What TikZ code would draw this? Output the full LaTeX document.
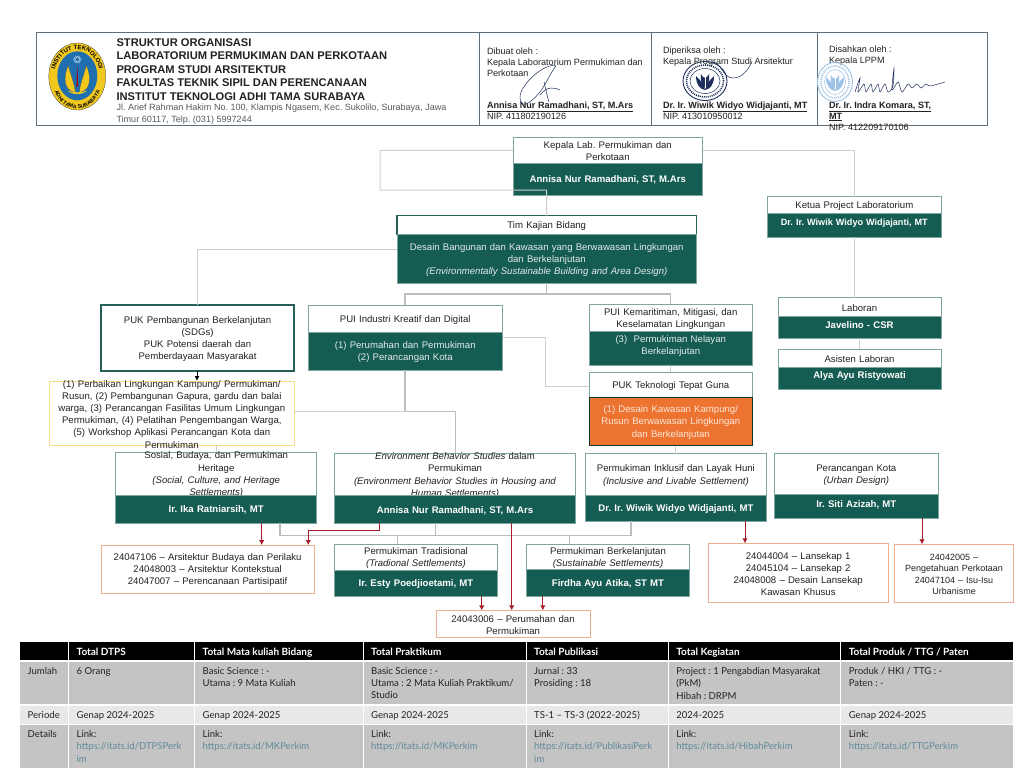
\documentclass[tikz,border=0pt]{standalone}
\usepackage{fontspec}
\setmainfont{Liberation Sans}
\newfontfamily\tblfont{Lato}[Ligatures=TeX]
\usetikzlibrary{arrows.meta,decorations.text}
\frenchspacing
\definecolor{labgreen}{HTML}{155C52}
\definecolor{edgeteal}{HTML}{7FA5A0}
\definecolor{connline}{HTML}{CFCFCF}
\definecolor{connthick}{HTML}{BDBDBD}
\definecolor{redarrow}{HTML}{A81C2C}
\definecolor{peach}{HTML}{EFAE92}
\definecolor{yellowedge}{HTML}{F5DE82}
\definecolor{orangefill}{HTML}{EC7430}
\definecolor{framegray}{HTML}{5E6E7A}
\definecolor{rowdark}{HTML}{C4C4C4}
\definecolor{rowlight}{HTML}{E8E8E8}
\definecolor{linkblue}{HTML}{5F8A99}
\definecolor{inktxt}{HTML}{222222}
\definecolor{navyink}{HTML}{1E2F5E}
\definecolor{stampblue}{HTML}{9CC2E5}
\definecolor{logoblue}{HTML}{1F6FB0}
\definecolor{logoyellow}{HTML}{F2C81E}
\tikzset{
  x=1pt,y=-1pt,
  boxbase/.style={inner sep=0pt,outer sep=0pt,anchor=north west},
  whitebox/.style={boxbase,draw=edgeteal,line width=.9pt,fill=white},
  strongbox/.style={boxbase,draw=labgreen!85!gray,line width=1.1pt,fill=white},
  greenbox/.style={boxbase,draw=edgeteal,line width=.6pt,fill=labgreen},
  orangebox/.style={boxbase,draw=labgreen!60!black,line width=.8pt,fill=orangefill},
  yellowbox/.style={boxbase,draw=yellowedge,line width=1pt,fill=white},
  codebox/.style={boxbase,draw=peach,line width=1pt,fill=white},
  hdrbox/.style={boxbase,draw=framegray,line width=.9pt,fill=white},
  txtbase/.style={inner sep=0pt,outer sep=0pt,align=center},
  darktxt/.style={txtbase,text=inktxt,font=\fontsize{9.6}{12.2}\selectfont},
  smalltxt/.style={txtbase,text=inktxt,font=\fontsize{9}{11.2}\selectfont},
  boldtxt/.style={txtbase,text=white,font=\fontsize{9.6}{12.2}\selectfont\bfseries},
  tightbold/.style={txtbase,text=white,font=\fontsize{9.1}{12}\selectfont\bfseries},
  softtxt/.style={txtbase,text=white!88!labgreen,font=\fontsize{9.6}{12.3}\selectfont},
  softorange/.style={txtbase,text=white!82!orangefill,font=\fontsize{9.6}{12.3}\selectfont},
  hdrtxt/.style={inner sep=0pt,outer sep=0pt,align=left,anchor=north west,text=inktxt,font=\fontsize{9.1}{11}\selectfont},
  conn/.style={draw=connline,line width=1pt},
  connheavy/.style={draw=connthick,line width=1.4pt},
  redconn/.style={draw=redarrow,line width=.95pt,-{Latex[length=5pt,width=5.5pt]}},
  blackconn/.style={draw=black,line width=1pt,-{Latex[length=5pt,width=5pt]}},
  tblbase/.style={inner sep=0pt,outer sep=0pt,anchor=north west},
  tbltxt/.style={inner sep=0pt,outer sep=0pt,align=left,anchor=north west,text=inktxt,font=\tblfont\fontsize{9.55}{12.3}\selectfont},
  tblhead/.style={tbltxt,text=white,font=\tblfont\fontsize{10}{12.3}\selectfont\bfseries},
}
\newcommand{\rb}[8]{%
  \pgfmathsetlengthmacro\rbw{#6-#4}\pgfmathsetlengthmacro\rbh{#7-#5}%
  \pgfmathsetlengthmacro\rbt{#6-#4-3}%
  \node[#2,minimum width=\rbw,minimum height=\rbh] (#1) at (#4,#5) {};%
  \node[#3,text width=\rbt] (#1-x) at ([yshift=-1.1pt]#1.center) {#8};%
}
\newcommand{\tc}[8]{%
  \pgfmathsetlengthmacro\rbw{#5-#3}\pgfmathsetlengthmacro\rbh{#6-#4}%
  \node[tblbase,fill=#1,minimum width=\rbw,minimum height=\rbh] (#7) at (#3,#4) {};%
  \node[#2] (#7-x) at ([xshift=7.4pt,yshift=-5.4pt]#7.north west) {#8};%
}
\newcommand{\seal}[5]{%
  \begin{scope}[shift={(#1,#2)}]
    \draw[#5,line width=.9pt] (0,0) ellipse[x radius=#3pt,y radius=#4pt];
    \draw[#5,line width=1.6pt,dash pattern=on 1pt off 1pt] (0,0) ellipse[x radius=#3pt-3.5pt,y radius=#4pt-3.5pt];
    \draw[#5,line width=.5pt] (0,0) ellipse[x radius=#3pt-7pt,y radius=#4pt-7pt];
    \fill[#5] (-9,-5) .. controls (-9,4) and (-5,8) .. (0,9) .. controls (-1,3) and (-4,0) .. (-9,-5) -- cycle;
    \fill[#5] (9,-5) .. controls (9,4) and (5,8) .. (0,9) .. controls (1,3) and (4,0) .. (9,-5) -- cycle;
    \fill[#5] (-4,-7) .. controls (-5,0) and (-3,4) .. (0,7) .. controls (3,4) and (5,0) .. (4,-7) .. controls (2,-2) and (-2,-2) .. (-4,-7) -- cycle;
    \fill[white] (-.5,-8) rectangle (.5,7);
  \end{scope}%
}
\begin{document}
\begin{tikzpicture}
\useasboundingbox (0,0) rectangle (1024,768);
\fill[white] (0,0) rectangle (1024,768);

% header
\rb{hA}{hdrbox}{hdrtxt}{36.5}{32.5}{479}{125}{}
\rb{hB}{hdrbox}{hdrtxt}{479}{32.5}{651}{125}{}
\rb{hC}{hdrbox}{hdrtxt}{651}{32.5}{817.5}{125}{}
\rb{hD}{hdrbox}{hdrtxt}{817.5}{32.5}{987.5}{125}{}

% logo
\begin{scope}[shift={(77.3,76.5)}]
  \fill[logoyellow] (0,0) ellipse[x radius=28.5pt,y radius=33.5pt];
  \draw[framegray!60!black,line width=.3pt] (0,0) ellipse[x radius=28.5pt,y radius=33.5pt];
  \fill[logoblue] (0,-.7) ellipse[x radius=20pt,y radius=24.5pt];
  \fill[logoyellow,draw=black!70,line width=.2pt] (-2,16) .. controls (-14,14) and (-14,0) .. (-9,-11) .. controls (-7,-2) and (-3,6) .. (-2,16) -- cycle;
  \fill[logoyellow,draw=black!70,line width=.2pt] (2,16) .. controls (14,14) and (14,0) .. (9,-11) .. controls (7,-2) and (3,6) .. (2,16) -- cycle;
  \fill[red!65!black] (-.9,10) -- (0,-12) -- (.9,10) -- cycle;
  \fill[logoyellow] (-10,14) .. controls (-4,19) and (4,19) .. (10,14) .. controls (4,16.5) and (-4,16.5) .. (-10,14) -- cycle;
  \draw[white!70!logoblue,line width=.35pt] (0,-17) ellipse[x radius=4pt,y radius=2pt];
  \draw[white!70!logoblue,line width=.35pt,rotate around={60:(0,-17)}] (0,-17) ellipse[x radius=4pt,y radius=2pt];
  \draw[white!70!logoblue,line width=.35pt,rotate around={-60:(0,-17)}] (0,-17) ellipse[x radius=4pt,y radius=2pt];
  \path[decorate,decoration={text along path,text align=center,text={|\fontsize{6}{6}\selectfont\bfseries|INSTITUT TEKNOLOGI}}] (-23.5,5) .. controls (-23.5,-38) and (23.5,-38) .. (23.5,5);
  \path[decorate,decoration={text along path,text align=center,text={|\fontsize{5.3}{6}\selectfont\bfseries|ADHI TAMA SURABAYA}}] (-25,0) .. controls (-25,43) and (25,43) .. (25,0);
\end{scope}

\node[inner sep=0pt,outer sep=0pt,align=left,anchor=north west,text=inktxt,font=\fontsize{11.15}{13.5}\selectfont\bfseries] (title) at (116.5,38.5)
{STRUKTUR ORGANISASI\\LABORATORIUM PERMUKIMAN DAN PERKOTAAN\\PROGRAM STUDI ARSITEKTUR\\FAKULTAS TEKNIK SIPIL DAN PERENCANAAN\\INSTITUT TEKNOLOGI ADHI TAMA SURABAYA};
\node[inner sep=0pt,outer sep=0pt,align=left,anchor=north west,text=black!65,font=\fontsize{9.05}{12}\selectfont] (addr) at (116.5,104)
{Jl. Arief Rahman Hakim No. 100, Klampis Ngasem, Kec. Sukolilo, Surabaya, Jawa\\Timur 60117, Telp. (031) 5997244};

\node[hdrtxt] (sigAt) at (487,47.5) {Dibuat oleh :\\Kepala Laboratorium Permukiman dan\\Perkotaan};
\node[hdrtxt] (sigAn) at (487,102) {\textbf{\underline{Annisa Nur Ramadhani, ST, M.Ars}}\\NIP. 411802190126};
\node[hdrtxt] (sigBt) at (663,46.5) {Diperiksa oleh :\\Kepala Program Studi Arsitektur};
\node[hdrtxt] (sigBn) at (663,101.5) {\textbf{\underline{Dr. Ir. Wiwik Widyo Widjajanti, MT}}\\NIP. 413010950012};
\node[hdrtxt] (sigCt) at (829,45.5) {Disahkan oleh :\\Kepala LPPM};
\node[hdrtxt,text=inktxt] (sigCn) at (829,101.5) {\textbf{\underline{Dr. Ir. Indra Komara, ST,}}\\\textbf{\underline{MT}}\\NIP. 412209170106};

% seals and signatures
\seal{705}{81}{22}{19.5}{navyink}
\seal{835}{82}{17.5}{19.5}{stampblue}
\draw[navyink,line width=.5pt] (556,66) .. controls (545,62) and (520,85) .. (520,97) .. controls (520,110) and (530,104) .. (540,92) .. controls (546,84) and (552,70) .. (556,66);
\draw[navyink,line width=.5pt] (544,82) .. controls (546,90) and (547,96) .. (549,102);
\draw[navyink,line width=.5pt] (540,95) .. controls (548,85) and (555,88) .. (560,90);
\draw[navyink,line width=.5pt] (712,62) .. controls (722,62) and (722,78) .. (733,78) .. controls (742,78) and (748,70) .. (752,62);
\draw[navyink,line width=.5pt] plot[smooth] coordinates {(855,92)(860,78)(858,92)(864,84)(866,92)(871,84)(873,92)(878,84)(880,92)(885,84)(888,92)(893,86)(894,68)(892,90)(898,82)(902,92)(908,84)(912,88)(917,84)(921,88)(926,84)(930,86)(945,82)};

% two-part boxes
\rb{kepT}{whitebox}{darktxt}{513}{137.5}{702.5}{163}{Kepala Lab. Permukiman dan\\Perkotaan}
\rb{kepB}{greenbox}{boldtxt}{513}{163}{702.5}{195}{Annisa Nur Ramadhani, ST, M.Ars}
\rb{ketT}{whitebox}{darktxt}{767}{196.7}{941.6}{213}{Ketua Project Laboratorium}
\rb{ketB}{greenbox}{tightbold,yshift=2.5pt}{767}{213}{941.6}{237}{Dr. Ir. Wiwik Widyo Widjajanti, MT}
\rb{timT}{strongbox}{darktxt}{397}{215.7}{696.5}{234.5}{Tim Kajian Bidang}
\rb{timB}{greenbox}{softtxt}{397}{234.5}{696.5}{283}{Desain Bangunan dan Kawasan yang Berwawasan Lingkungan\\dan Berkelanjutan\\\textit{(Environmentally Sustainable Building and Area Design)}}

\rb{sdg}{strongbox}{darktxt}{101}{305}{294}{371}{PUK Pembangunan Berkelanjutan\\(SDGs)\\PUK Potensi daerah dan\\Pemberdayaan Masyarakat}
\rb{yel}{yellowbox}{darktxt}{49.3}{381}{294.3}{445}{(1) Perbaikan Lingkungan Kampung/ Permukiman/\\Rusun, (2) Pembangunan Gapura, gardu dan balai\\warga, (3) Perancangan Fasilitas Umum Lingkungan\\Permukiman, (4) Pelatihan Pengembangan Warga,\\(5) Workshop Aplikasi Perancangan Kota dan\\Permukiman}

\rb{indT}{whitebox}{darktxt}{308}{305}{502.5}{332}{PUI Industri Kreatif dan Digital}
\rb{indB}{greenbox}{softtxt}{308}{332}{502.5}{370}{(1) Perumahan dan Permukiman\\(2) Perancangan Kota}
\rb{marT}{whitebox}{darktxt}{589}{304}{752.5}{331.7}{PUI Kemaritiman, Mitigasi, dan\\Keselamatan Lingkungan}
\rb{marB}{greenbox}{softtxt,yshift=4pt}{589}{331.7}{752.5}{365.7}{(3)\ \ Permukiman Nelayan\\Berkelanjutan}
\rb{tekT}{whitebox}{darktxt}{589}{372}{752.5}{397}{PUK Teknologi Tepat Guna}
\rb{tekB}{orangebox}{softorange}{589}{397}{752.5}{445.7}{(1) Desain Kawasan Kampung/\\Rusun Berwawasan Lingkungan\\dan Berkelanjutan}

\rb{labT}{whitebox}{darktxt}{778}{297.7}{941}{316}{Laboran}
\rb{labB}{greenbox}{boldtxt,yshift=3.5pt}{778}{316}{941}{338}{Javelino - CSR}
\rb{asiT}{whitebox}{darktxt}{778}{349}{941}{367.3}{Asisten Laboran}
\rb{asiB}{greenbox}{boldtxt,yshift=3.5pt}{778}{367.3}{941}{389.7}{Alya Ayu Ristyowati}

\rb{sosT}{whitebox}{darktxt}{115.7}{452.3}{316.7}{495}{Sosial, Budaya, dan Permukiman\\Heritage\\\textit{(Social, Culture, and Heritage}\\\textit{Settlements)}}
\rb{sosB}{greenbox}{boldtxt}{115.7}{495}{316.7}{523.3}{Ir. Ika Ratniarsih, MT}
\rb{envT}{whitebox}{darktxt}{334.3}{453}{575.7}{495.7}{\textit{Environment Behavior Studies} dalam\\Permukiman\\\textit{(Environment Behavior Studies in Housing and}\\\textit{Human Settlements)}}
\rb{envB}{greenbox}{boldtxt}{334.3}{495.7}{575.7}{523.3}{Annisa Nur Ramadhani, ST, M.Ars}
\rb{inkT}{whitebox}{darktxt}{585.3}{453.7}{766.5}{495}{Permukiman Inklusif dan Layak Huni\\\textit{(Inclusive and Livable Settlement)}}
\rb{inkB}{greenbox}{boldtxt}{585.3}{495}{766.5}{521.3}{Dr. Ir. Wiwik Widyo Widjajanti, MT}
\rb{perT}{whitebox}{darktxt}{774.6}{453.7}{938}{494.3}{Perancangan Kota\\\textit{(Urban Design)}}
\rb{perB}{greenbox}{boldtxt,yshift=2.5pt}{774.6}{494.3}{938}{518.3}{Ir. Siti Azizah, MT}

\rb{traT}{whitebox}{darktxt}{334.3}{544.3}{497.7}{570}{Permukiman Tradisional\\\textit{(Tradional Settlements)}}
\rb{traB}{greenbox}{boldtxt}{334.3}{570}{497.7}{596.3}{Ir. Esty Poedjioetami, MT}
\rb{lanT}{whitebox}{darktxt}{526.4}{544.3}{689.6}{569.7}{Permukiman Berkelanjutan\\\textit{(Sustainable Settlements)}}
\rb{lanB}{greenbox}{boldtxt}{526.4}{569.7}{689.6}{596.3}{Firdha Ayu Atika, ST MT}

\rb{cod1}{codebox}{darktxt}{101}{545}{314.3}{593.3}{24047106 – Arsitektur Budaya dan Perilaku\\24048003 – Arsitektur Kontekstual\\24047007 – Perencanaan Partisipatif}
\rb{cod2}{codebox}{darktxt}{436}{610.3}{590}{637.7}{24043006 – Perumahan dan\\Permukiman}
\rb{cod3}{codebox}{darktxt}{708.4}{543.3}{888}{602.7}{24044004 – Lansekap 1\\24045104 – Lansekap 2\\24048008 – Desain Lansekap\\Kawasan Khusus}
\rb{cod4}{codebox}{smalltxt}{894.6}{544.3}{1013.4}{602.3}{24042005 –\\Pengetahuan Perkotaan\\24047104 – Isu-Isu\\Urbanisme}

% connectors
\coordinate (kepLeftTurn) at (380,150.5);
\coordinate (kepLoopLow) at (380,190);
\coordinate (kepLoopEnd) at (546.7,190);
\draw[conn] (kepT.west) -- (kepLeftTurn) -- (kepLoopLow) -- (kepLoopEnd) -- (546.7,0 |- timT.north);
\draw[conn] (kepT.east) -- (854,0 |- kepT.east) -- (854,0 |- ketT.north);
\draw[conn] (854,0 |- ketB.south) -- (854,0 |- labT.north);
\draw[conn] (0,249 -| timB.west) -- (197,249) -- (197,0 |- sdg.north);
\coordinate (timDrop) at (546.7,294);
\draw[connheavy] (546.7,0 |- timB.south) -- (timDrop);
\draw[connheavy] (405,0 |- indT.north) -- (405,294) -- (670.7,294) -- (670.7,0 |- marT.north);
\draw[conn] (670.7,0 |- marB.south) -- (670.7,0 |- tekT.north);
\draw[conn] (859,0 |- labB.south) -- (859,0 |- asiT.north);
\draw[connheavy] (405,0 |- indB.south) -- (405,411.5) -- (455.5,411.5) -- (455.5,0 |- envT.north);
\draw[conn] (0,411.5 -| yel.east) -- (405,411.5);
\draw[conn] (0,337.7 -| indB.east) -- (545.7,337.7) -- (545.7,386.7) -- (0,386.7 -| tekT.west);
\draw[conn] (675.7,0 |- tekB.south) -- (675.7,0 |- inkT.north);
\draw[conn] (216,0 |- yel.south) -- (216,0 |- sosT.north);
\draw[connheavy] (280,0 |- sosB.south) -- (280,535.7) -- (631,535.7) -- (631,0 |- inkB.south);
\draw[connheavy] (397.7,535.7) -- (397.7,0 |- traT.north);
\draw[connheavy] (435.7,0 |- envB.south) -- (435.7,535.7);
\draw[connheavy] (569.7,535.7) -- (569.7,0 |- lanT.north);
\draw[blackconn] (197,0 |- sdg.south) -- (197,0 |- yel.north);
\draw[redconn] (261.7,0 |- sosB.south) -- (261.7,0 |- cod1.north);
\draw[redconn] (379,0 |- envB.south) -- (379,530) -- (308.3,530) -- (308.3,0 |- cod1.north);
\draw[redconn] (511.7,0 |- envB.south) -- (511.7,0 |- cod2.north);
\draw[redconn] (481.7,0 |- traB.south) -- (481.7,0 |- cod2.north);
\draw[redconn] (542.8,0 |- lanB.south) -- (542.8,0 |- cod2.north);
\draw[redconn] (745,0 |- inkB.south) -- (745,0 |- cod3.north);
\draw[redconn] (922,0 |- perB.south) -- (922,0 |- cod4.north);

% table
\tc{black}{tblhead}{20.3}{642.3}{68}{659.7}{c00}{}
\tc{black}{tblhead}{69.3}{642.3}{194}{659.7}{c01}{Total DTPS}
\tc{black}{tblhead}{195.3}{642.3}{362.5}{659.7}{c02}{Total Mata kuliah Bidang}
\tc{black}{tblhead}{363.8}{642.3}{525.5}{659.7}{c03}{Total Praktikum}
\tc{black}{tblhead}{526.8}{642.3}{667.8}{659.7}{c04}{Total Publikasi}
\tc{black}{tblhead}{669}{642.3}{840}{659.7}{c05}{Total Kegiatan}
\tc{black}{tblhead}{841.4}{642.3}{1012.7}{659.7}{c06}{Total Produk / TTG / Paten}

\tc{rowdark}{tbltxt}{20.3}{662}{68}{704.3}{c10}{Jumlah}
\tc{rowdark}{tbltxt}{69.3}{662}{194}{704.3}{c11}{6 Orang}
\tc{rowdark}{tbltxt}{195.3}{662}{362.5}{704.3}{c12}{Basic Science : -\\Utama : 9 Mata Kuliah}
\tc{rowdark}{tbltxt}{363.8}{662}{525.5}{704.3}{c13}{Basic Science : -\\Utama : 2 Mata Kuliah Praktikum/\\Studio}
\tc{rowdark}{tbltxt}{526.8}{662}{667.8}{704.3}{c14}{Jurnal : 33\\Prosiding : 18}
\tc{rowdark}{tbltxt}{669}{662}{840}{704.3}{c15}{Project : 1 Pengabdian Masyarakat\\(PkM)\\Hibah : DRPM}
\tc{rowdark}{tbltxt}{841.4}{662}{1012.7}{704.3}{c16}{Produk / HKI / TTG : -\\Paten : -}

\tc{rowlight}{tbltxt}{20.3}{705.7}{68}{723.7}{c20}{Periode}
\tc{rowlight}{tbltxt}{69.3}{705.7}{194}{723.7}{c21}{Genap 2024-2025}
\tc{rowlight}{tbltxt}{195.3}{705.7}{362.5}{723.7}{c22}{Genap 2024-2025}
\tc{rowlight}{tbltxt}{363.8}{705.7}{525.5}{723.7}{c23}{Genap 2024-2025}
\tc{rowlight}{tbltxt}{526.8}{705.7}{667.8}{723.7}{c24}{TS-1 – TS-3 (2022-2025)}
\tc{rowlight}{tbltxt}{669}{705.7}{840}{723.7}{c25}{2024-2025}
\tc{rowlight}{tbltxt}{841.4}{705.7}{1012.7}{723.7}{c26}{Genap 2024-2025}

\newcommand{\lnk}[1]{\textcolor{linkblue}{#1}}
\tc{rowdark}{tbltxt}{20.3}{725}{68}{768}{c30}{Details}
\tc{rowdark}{tbltxt}{69.3}{725}{194}{768}{c31}{Link:\\\lnk{https://itats.id/DTPSPerk}\\\lnk{im}}
\tc{rowdark}{tbltxt}{195.3}{725}{362.5}{768}{c32}{Link:\\\lnk{https://itats.id/MKPerkim}}
\tc{rowdark}{tbltxt}{363.8}{725}{525.5}{768}{c33}{Link:\\\lnk{https://itats.id/MKPerkim}}
\tc{rowdark}{tbltxt}{526.8}{725}{667.8}{768}{c34}{Link:\\\lnk{https://itats.id/PublikasiPerk}\\\lnk{im}}
\tc{rowdark}{tbltxt}{669}{725}{840}{768}{c35}{Link:\\\lnk{https://itats.id/HibahPerkim}}
\tc{rowdark}{tbltxt}{841.4}{725}{1012.7}{768}{c36}{Link:\\\lnk{https://itats.id/TTGPerkim}}
\end{tikzpicture}
\end{document}
